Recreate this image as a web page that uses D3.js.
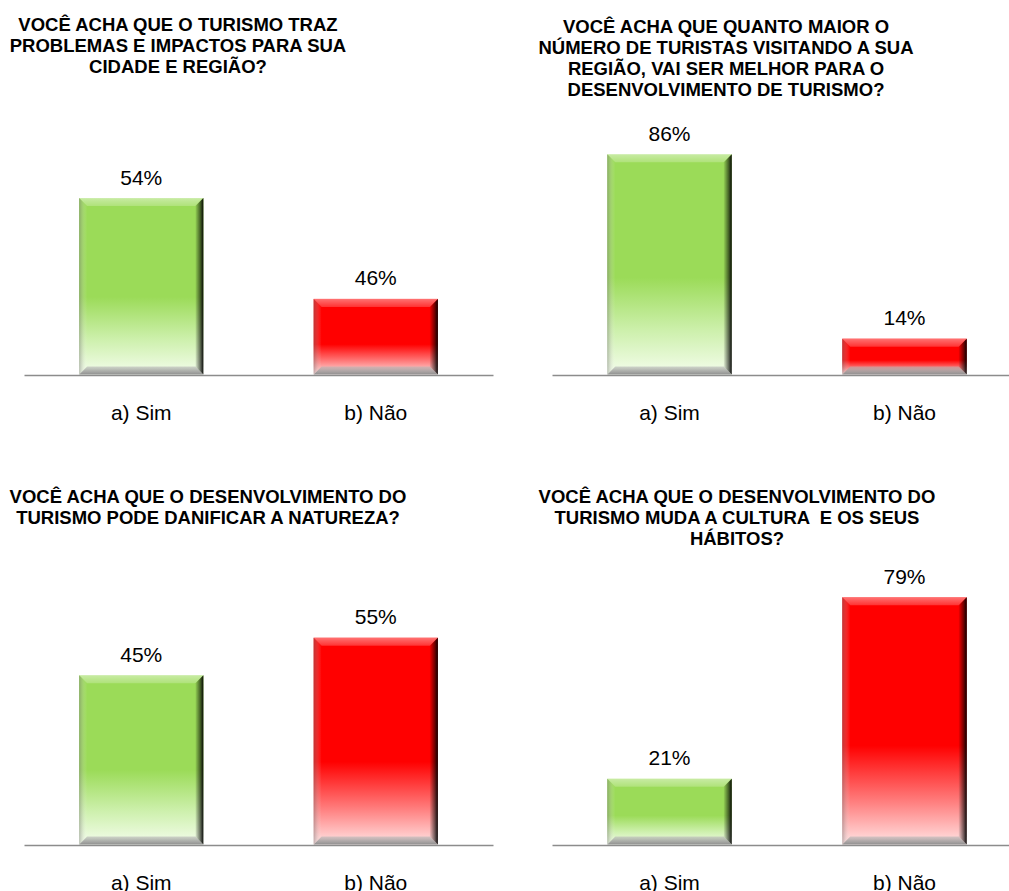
<!DOCTYPE html>
<html lang="pt-BR">
<head>
<meta charset="utf-8">
<script src="https://cdn.jsdelivr.net/npm/d3@7"></script>
<style>
  html, body { margin: 0; padding: 0; background: #ffffff; }
  svg { display: block; font-family: Arial, "Liberation Sans", sans-serif; }
  .title text { white-space: pre; }
</style>
</head>
<body>
<svg id="chart" width="1009" height="891"></svg>
<script>
// Survey answers (percent), one pair per question
const categories = ["a) Sim", "b) Não"];
const valuesImpactos = [54, 46];
const valuesMaisTuristas = [86, 14];
const valuesNatureza = [45, 55];
const valuesCultura = [21, 79];

const titleImpactos = ["VOCÊ ACHA QUE O TURISMO TRAZ", "PROBLEMAS E IMPACTOS PARA SUA", "CIDADE E REGIÃO?"];
const titleMaisTuristas = ["VOCÊ ACHA QUE QUANTO MAIOR O", "NÚMERO DE TURISTAS VISITANDO A SUA", "REGIÃO, VAI SER MELHOR PARA O", "DESENVOLVIMENTO DE TURISMO?"];
const titleNatureza = ["VOCÊ ACHA QUE O DESENVOLVIMENTO DO", "TURISMO PODE DANIFICAR A NATUREZA?"];
const titleCultura = ["VOCÊ ACHA QUE O DESENVOLVIMENTO DO", "TURISMO MUDA A CULTURA  E OS SEUS", "HÁBITOS?"];

const barColors = ["green", "red"];

// Panel geometry
const panels = [
  { values: valuesImpactos, title: titleImpactos, titleX: 178, titleY: 30.5,
    left: 24, right: 493, base: 374.5, domain: [40, 55], top: 185.5 },
  { values: valuesMaisTuristas, title: titleMaisTuristas, titleX: 726, titleY: 33,
    left: 552, right: 1022, base: 374.5, domain: [0, 100], top: 118.5 },
  { values: valuesNatureza, title: titleNatureza, titleX: 208, titleY: 503,
    left: 24, right: 493, base: 844.5, domain: [0, 60], top: 618.9 },
  { values: valuesCultura, title: titleCultura, titleX: 737, titleY: 503,
    left: 552, right: 1022, base: 844.5, domain: [0, 90], top: 562.8 }
];

const svg = d3.select("#chart");
svg.append("rect").attr("width", 1009).attr("height", 891).attr("fill", "#ffffff");

const defs = svg.append("defs");

function vGrad(id, stops) {
  const g = defs.append("linearGradient").attr("id", id)
    .attr("x1", 0).attr("y1", 0).attr("x2", 0).attr("y2", 1);
  stops.forEach(s => g.append("stop").attr("offset", s[0]).attr("stop-color", s[1]).attr("stop-opacity", s[2] ?? 1));
}
function hGrad(id, stops) {
  const g = defs.append("linearGradient").attr("id", id)
    .attr("x1", 0).attr("y1", 0).attr("x2", 1).attr("y2", 0);
  stops.forEach(s => g.append("stop").attr("offset", s[0]).attr("stop-color", s[1]).attr("stop-opacity", s[2] ?? 1));
}

vGrad("fill-green", [[0, "#9bdb58"], [0.56, "#9bdb58"], [0.8, "#cdf0ac"], [1, "#f4fdec"]]);
vGrad("fill-red", [[0, "#ff0000"], [0.6, "#ff0000"], [0.82, "#ff7a7a"], [1, "#ffe4e4"]]);
vGrad("bevel-top", [[0, "#ffffff", 0.45], [1, "#ffffff", 0.2]]);
hGrad("bevel-left", [[0, "#707070", 0.45], [1, "#ffffff", 0.0]]);
hGrad("bevel-right", [[0, "#000000", 0.05], [0.6, "#000000", 0.55], [1, "#000000", 0.95]]);
vGrad("bevel-bottom", [[0, "#b4b4b4", 0.55], [0.5, "#a0a0a0", 0.8], [1, "#8a8a8a", 0.95]]);

const bevel = 8;
const fmt = d => d + "%";

panels.forEach(p => {
  const g = svg.append("g");

  const x = d3.scaleBand().domain(categories).range([p.left, p.right])
    .paddingInner(0.47).paddingOuter(0.235);
  const y = d3.scaleLinear().domain(p.domain).range([p.base, p.top]);

  // Title
  const t = g.append("g").attr("class", "title")
    .attr("font-size", 18.5).attr("font-weight", "bold").attr("fill", "#000")
    .attr("text-anchor", "middle");
  p.title.forEach((line, i) => {
    t.append("text").attr("x", p.titleX).attr("y", p.titleY + i * 21).text(line);
  });

  // Bars with bevelled edges
  const rows = categories.map((c, i) => ({ cat: c, value: p.values[i], color: barColors[i] }));
  const bars = g.selectAll("g.bar").data(rows).join("g").attr("class", "bar");

  bars.each(function(d) {
    const b = d3.select(this);
    const x0 = x(d.cat), x1 = x0 + x.bandwidth();
    const y0 = y(d.value), y1 = y(p.domain[0]);
    b.append("rect").attr("x", x0).attr("y", y0).attr("width", x1 - x0).attr("height", y1 - y0)
      .attr("fill", `url(#fill-${d.color})`);
    const pts = a => a.map(q => q.join(",")).join(" ");
    b.append("polygon").attr("points", pts([[x0, y0], [x1, y0], [x1 - bevel, y0 + bevel], [x0 + bevel, y0 + bevel]]))
      .attr("fill", "url(#bevel-top)");
    b.append("polygon").attr("points", pts([[x0, y0], [x0 + bevel, y0 + bevel], [x0 + bevel, y1 - bevel], [x0, y1]]))
      .attr("fill", "url(#bevel-left)");
    b.append("polygon").attr("points", pts([[x0, y1], [x0 + bevel, y1 - bevel], [x1 - bevel, y1 - bevel], [x1, y1]]))
      .attr("fill", "url(#bevel-bottom)");
    b.append("polygon").attr("points", pts([[x1, y0], [x1, y1], [x1 - bevel, y1 - bevel], [x1 - bevel, y0 + bevel]]))
      .attr("fill", "url(#bevel-right)");
  });

  // Value labels
  g.selectAll("text.value").data(rows).join("text").attr("class", "value")
    .attr("x", d => x(d.cat) + x.bandwidth() / 2)
    .attr("y", d => y(d.value) - 13.5)
    .attr("text-anchor", "middle").attr("font-size", 21).attr("fill", "#000")
    .text(d => fmt(d.value));

  // Category axis
  const axis = g.append("g").attr("transform", `translate(0,${p.base + 0.5})`)
    .call(d3.axisBottom(x).tickSize(0).tickSizeOuter(0).tickPadding(30));
  axis.select(".domain").attr("stroke", "#8c8c8c").attr("stroke-width", 1.6);
  axis.selectAll(".tick text").attr("font-size", 21).attr("fill", "#000")
    .attr("font-family", "Arial, 'Liberation Sans', sans-serif");
});
</script>
</body>
</html>
